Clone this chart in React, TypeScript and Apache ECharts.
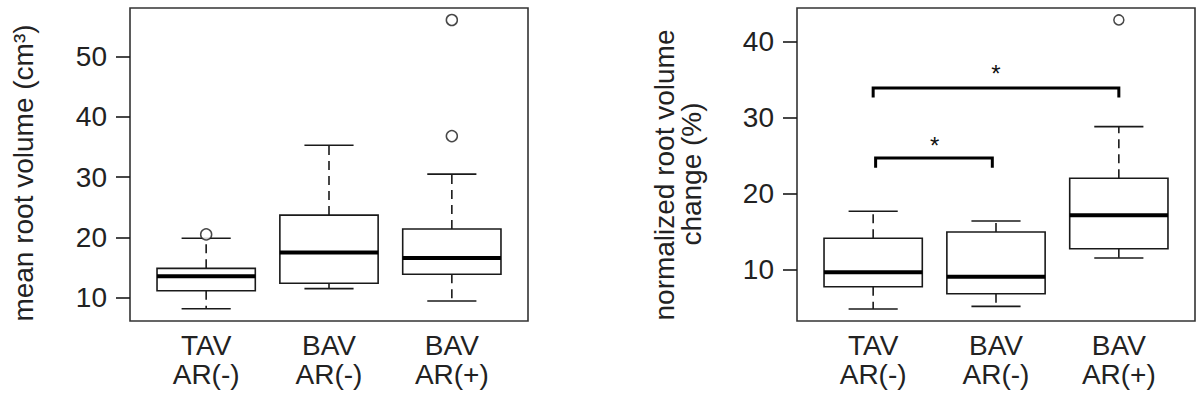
import React, { useEffect, useRef } from "react";
import * as echarts from "echarts";

const categories = ["TAV\nAR(-)", "BAV\nAR(-)", "BAV\nAR(+)"];
// [lower whisker, Q1, median, Q3, upper whisker]
const volumeStats = [
  [8.18, 11.16, 13.55, 14.87, 19.85],
  [11.5, 12.4, 17.5, 23.7, 35.27],
  [9.45, 13.9, 16.6, 21.4, 30.5],
];
const volumeOutliers = [
  [1, 20.5],
  [3, 36.8],
  [3, 56.05],
];
const changeStats = [
  [4.87, 7.8, 9.7, 14.17, 17.72],
  [5.22, 6.88, 9.12, 15.0, 16.45],
  [11.58, 12.8, 17.19, 22.07, 28.86],
];
const changeOutliers = [[3, 42.9]];
const volumeTicks = [10, 20, 30, 40, 50];
const changeTicks = [10, 20, 30, 40];
const categoryTicks = [1, 2, 3];
// [x start, x end, bar level, tip level]
const brackets = [
  [1.02, 1.97, 24.74, 23.46],
  [1.0, 3.0, 33.95, 32.7],
];
// [x, y, label]
const stars = [
  [1.5, 26.4, "*"],
  [2.0, 35.8, "*"],
];
const volumeRange = [6.14, 58.04];
const changeRange = [3.29, 44.47];
const yTitleLeft = "mean root volume (cm³)";
const yTitleRight = ["normalized root volume", "change (%)"];

const FONT = "'Liberation Sans', Arial, Helvetica, sans-serif";
const TEXT = "#222";
const LINE = "#1a1a1a";

function boxRender(params: any, api: any) {
  const x = api.value(0);
  const lo = api.value(1);
  const q1 = api.value(2);
  const med = api.value(3);
  const q3 = api.value(4);
  const hi = api.value(5);
  const half = api.size([0.4, 0])[0];
  const capHalf = api.size([0.2, 0])[0];
  const pLo = api.coord([x, lo]);
  const pQ1 = api.coord([x, q1]);
  const pMed = api.coord([x, med]);
  const pQ3 = api.coord([x, q3]);
  const pHi = api.coord([x, hi]);
  const cx = pMed[0];
  const solid = { stroke: LINE, lineWidth: 1.6, fill: null };
  const dashed = { stroke: LINE, lineWidth: 1.6, lineDash: [9, 6] };
  return {
    type: "group",
    children: [
      { type: "line", shape: { x1: cx, y1: pQ3[1], x2: cx, y2: pHi[1] }, style: dashed },
      { type: "line", shape: { x1: cx, y1: pQ1[1], x2: cx, y2: pLo[1] }, style: dashed },
      { type: "line", shape: { x1: cx - capHalf, y1: pHi[1], x2: cx + capHalf, y2: pHi[1] }, style: solid },
      { type: "line", shape: { x1: cx - capHalf, y1: pLo[1], x2: cx + capHalf, y2: pLo[1] }, style: solid },
      {
        type: "rect",
        shape: { x: cx - half, y: pQ3[1], width: half * 2, height: pQ1[1] - pQ3[1] },
        style: { stroke: LINE, lineWidth: 1.6, fill: "#fff" },
      },
      { type: "line", shape: { x1: cx - half, y1: pMed[1], x2: cx + half, y2: pMed[1] }, style: { stroke: "#000", lineWidth: 4 } },
    ],
  };
}

function bracketRender(params: any, api: any) {
  const a = api.coord([api.value(0), api.value(2)]);
  const b = api.coord([api.value(1), api.value(2)]);
  const aTip = api.coord([api.value(0), api.value(3)]);
  const bTip = api.coord([api.value(1), api.value(3)]);
  return {
    type: "polyline",
    shape: { points: [aTip, a, b, bTip] },
    style: { stroke: "#000", lineWidth: 3, fill: null },
  };
}

function starRender(params: any, api: any) {
  const p = api.coord([api.value(0), api.value(1)]);
  return {
    type: "text",
    x: p[0],
    y: p[1],
    style: {
      text: stars[params.dataIndex][2] as string,
      font: `24px ${FONT}`,
      fill: "#111",
      align: "center",
      verticalAlign: "middle",
    },
  };
}

function xAxisFor(gridIndex: number) {
  return {
    type: "value",
    gridIndex,
    min: 0.38,
    max: 3.62,
    splitLine: { show: false },
    axisLine: { show: false },
    axisTick: { show: false },
    axisLabel: {
      customValues: categoryTicks,
      formatter: (v: number) => categories[Math.round(v) - 1] ?? "",
      color: TEXT,
      fontFamily: FONT,
      fontSize: 28,
      lineHeight: 29,
      margin: 10,
    },
  };
}

function yAxisFor(gridIndex: number, range: number[], ticks: number[]) {
  return {
    type: "value",
    gridIndex,
    min: range[0],
    max: range[1],
    splitLine: { show: false },
    axisLine: { show: false },
    axisTick: { show: true, customValues: ticks, length: 14, inside: false, lineStyle: { color: LINE, width: 1.6 } },
    axisLabel: { customValues: ticks, color: TEXT, fontFamily: FONT, fontSize: 28, margin: 23 },
  };
}

export default function App() {
  const ref = useRef<HTMLDivElement>(null);
  useEffect(() => {
    if (!ref.current) return;
    const chart = echarts.init(ref.current, null, { renderer: "svg" });
    const boxData = (stats: number[][]) => stats.map((s, i) => [i + 1, ...s]);
    chart.setOption({
      animation: false,
      backgroundColor: "#fff",
      grid: [
        { left: 130, top: 8, width: 398, height: 313, show: true, borderColor: "#333", borderWidth: 1.6, backgroundColor: "transparent" },
        { left: 797, top: 8, width: 398, height: 313, show: true, borderColor: "#333", borderWidth: 1.6, backgroundColor: "transparent" },
      ],
      xAxis: [xAxisFor(0), xAxisFor(1)],
      yAxis: [yAxisFor(0, volumeRange, volumeTicks), yAxisFor(1, changeRange, changeTicks)],
      graphic: [
        {
          type: "text",
          x: 23,
          y: 173,
          rotation: Math.PI / 2,
          style: { text: yTitleLeft, font: `28px ${FONT}`, fill: TEXT, align: "center", verticalAlign: "middle" },
        },
        {
          type: "text",
          x: 664,
          y: 175,
          rotation: Math.PI / 2,
          style: { text: yTitleRight[0], font: `28px ${FONT}`, fill: TEXT, align: "center", verticalAlign: "middle" },
        },
        {
          type: "text",
          x: 691,
          y: 174,
          rotation: Math.PI / 2,
          style: { text: yTitleRight[1], font: `28px ${FONT}`, fill: TEXT, align: "center", verticalAlign: "middle" },
        },
      ],
      series: [
        {
          type: "custom",
          xAxisIndex: 0,
          yAxisIndex: 0,
          renderItem: boxRender,
          encode: { x: 0, y: [1, 2, 3, 4, 5] },
          data: boxData(volumeStats),
          clip: false,
        },
        {
          type: "scatter",
          xAxisIndex: 0,
          yAxisIndex: 0,
          symbol: "circle",
          symbolSize: 11,
          itemStyle: { color: "#fff", borderColor: LINE, borderWidth: 1.5 },
          data: volumeOutliers,
        },
        {
          type: "custom",
          xAxisIndex: 1,
          yAxisIndex: 1,
          renderItem: boxRender,
          encode: { x: 0, y: [1, 2, 3, 4, 5] },
          data: boxData(changeStats),
          clip: false,
        },
        {
          type: "scatter",
          xAxisIndex: 1,
          yAxisIndex: 1,
          symbol: "circle",
          symbolSize: 10,
          itemStyle: { color: "#fff", borderColor: LINE, borderWidth: 1.5 },
          data: changeOutliers,
        },
        {
          type: "custom",
          xAxisIndex: 1,
          yAxisIndex: 1,
          renderItem: bracketRender,
          encode: { x: [0, 1], y: [2, 3] },
          data: brackets,
        },
        {
          type: "custom",
          xAxisIndex: 1,
          yAxisIndex: 1,
          renderItem: starRender,
          encode: { x: 0, y: 1 },
          data: stars.map((s) => [s[0], s[1]]),
        },
      ],
    });
    return () => chart.dispose();
  }, []);
  return <div ref={ref} style={{ position: "fixed", left: 0, top: 0, width: 1199, height: 401 }} />;
}
